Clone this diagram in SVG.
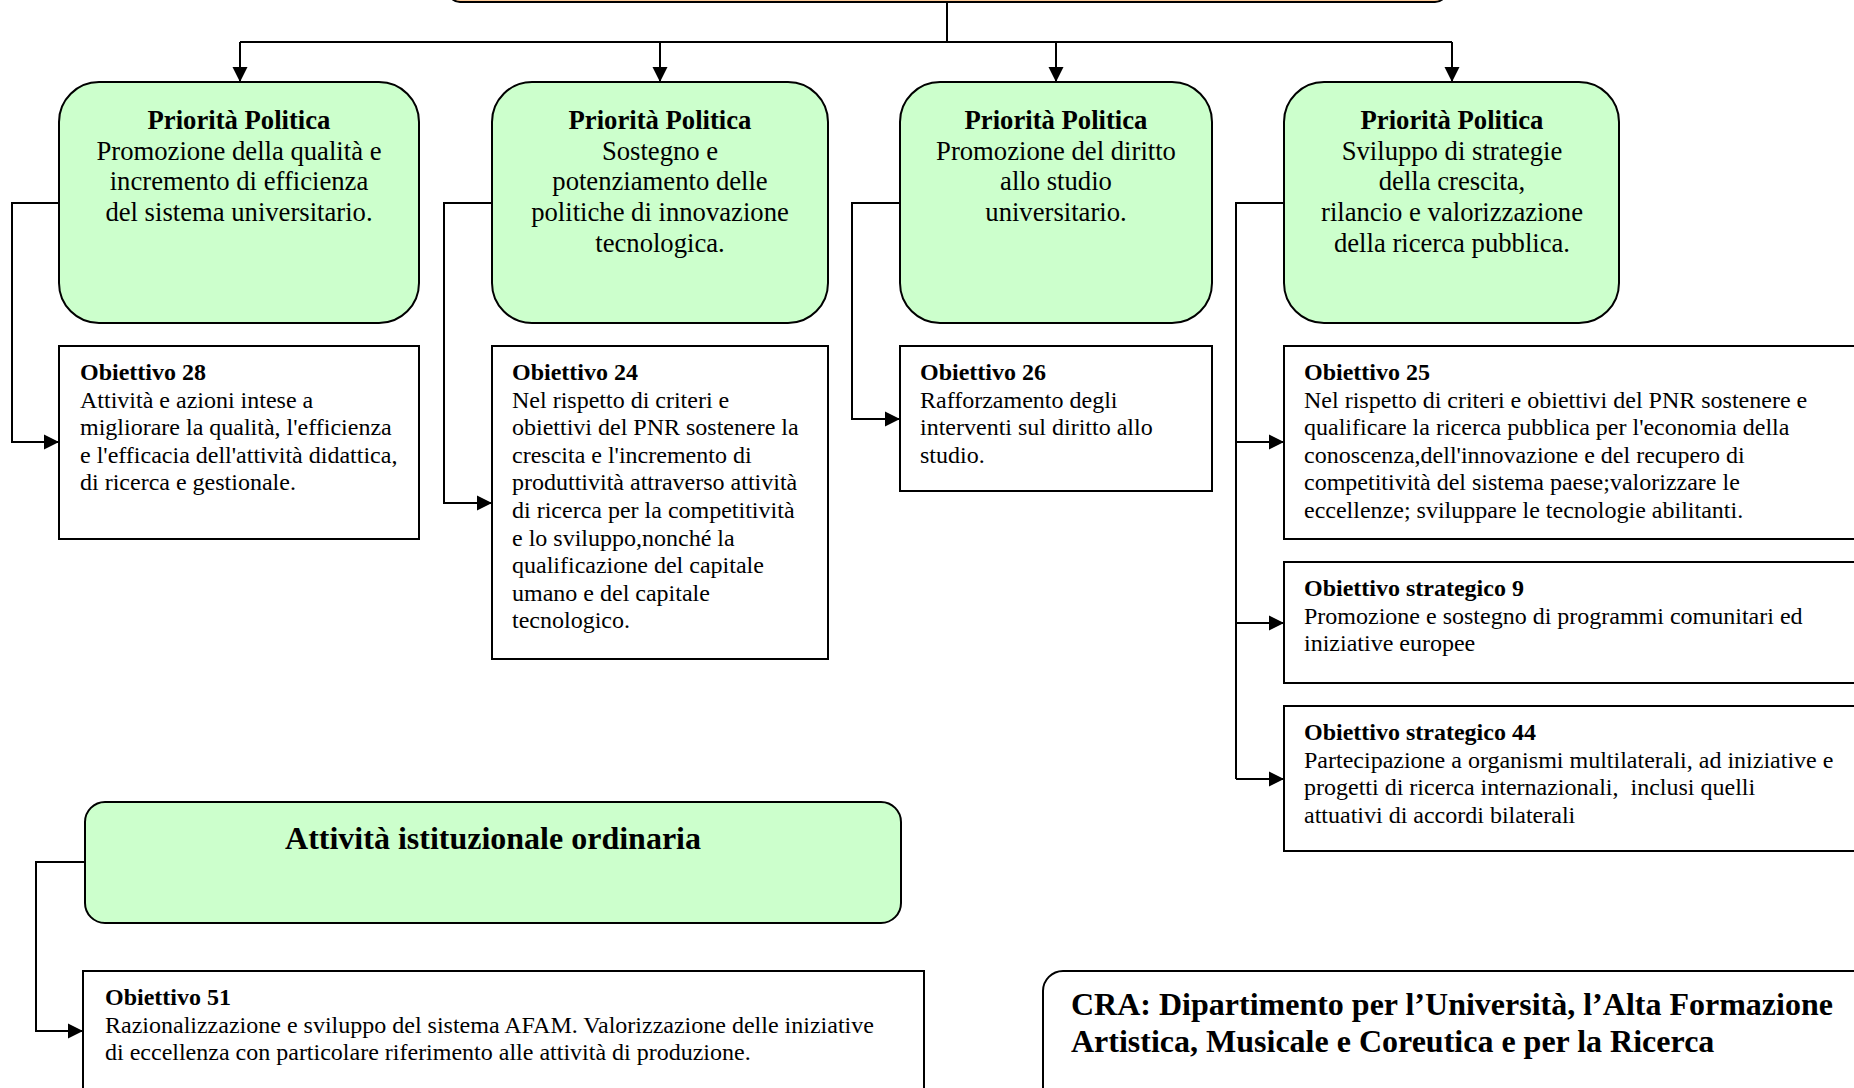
<svg xmlns="http://www.w3.org/2000/svg" width="1854" height="1088" viewBox="0 0 1854 1088">
  <style>
    .pp { fill: #CCFFCC; stroke: #000; stroke-width: 2; }
    .ob { fill: #FFFFFF; stroke: #000; stroke-width: 2; }
    .top { fill: #FFCC99; stroke: #000; stroke-width: 2; }
    .conn { fill: none; stroke: #000; stroke-width: 2; }
    .arr { fill: none; stroke: #000; stroke-width: 2; marker-end: url(#ah); }
    text { font-family: "Liberation Serif", "Times New Roman", serif; fill: #000; }
    .pt { font-size: 26.67px; text-anchor: middle; }
    .b { font-weight: bold; }
    .bt { font-size: 24px; }
    .big { font-size: 32px; font-weight: bold; }
  </style>
  <defs>
    <marker id="ah" markerUnits="userSpaceOnUse" markerWidth="16" markerHeight="16" refX="15" refY="8" orient="auto">
      <path d="M0,0.5 L15,8 L0,15.5 Z" fill="#000"/>
    </marker>
  </defs>
  <rect width="1854" height="1088" fill="#FFFFFF"/>

  <g id="top-box">
    <rect class="top" x="448" y="-60" width="999" height="62" rx="12"/>
  </g>

  <g id="connectors">
    <path class="conn" d="M947,2 V42"/>
    <path class="conn" d="M240,42 H1452"/>
    <path class="arr" d="M240,42 V82"/>
    <path class="arr" d="M660,42 V82"/>
    <path class="arr" d="M1056,42 V82"/>
    <path class="arr" d="M1452,42 V82"/>
    <path class="arr" d="M59,203 H12 V442 H59"/>
    <path class="arr" d="M492,203 H444 V503 H492"/>
    <path class="arr" d="M900,203 H852 V419 H900"/>
    <path class="conn" d="M1284,203 H1236 V779"/>
    <path class="arr" d="M1236,442 H1284"/>
    <path class="arr" d="M1236,623 H1284"/>
    <path class="arr" d="M1236,779 H1284"/>
    <path class="arr" d="M85,862 H36 V1031 H83"/>
  </g>

  <g id="pp1">
    <rect class="pp" x="59" y="82" width="360" height="241" rx="40"/>
    <text class="pt b" x="239" y="129">Priorità Politica</text>
    <text class="pt" x="239" y="159.7">Promozione della qualità e</text>
    <text class="pt" x="239" y="190.4">incremento di efficienza</text>
    <text class="pt" x="239" y="221">del sistema universitario.</text>
  </g>

  <g id="pp2">
    <rect class="pp" x="492" y="82" width="336" height="241" rx="40"/>
    <text class="pt b" x="660" y="129">Priorità Politica</text>
    <text class="pt" x="660" y="159.7">Sostegno e</text>
    <text class="pt" x="660" y="190.4">potenziamento delle</text>
    <text class="pt" x="660" y="221">politiche di innovazione</text>
    <text class="pt" x="660" y="251.8">tecnologica.</text>
  </g>

  <g id="pp3">
    <rect class="pp" x="900" y="82" width="312" height="241" rx="40"/>
    <text class="pt b" x="1056" y="129">Priorità Politica</text>
    <text class="pt" x="1056" y="159.7">Promozione del diritto</text>
    <text class="pt" x="1056" y="190.4">allo studio</text>
    <text class="pt" x="1056" y="221">universitario.</text>
  </g>

  <g id="pp4">
    <rect class="pp" x="1284" y="82" width="335" height="241" rx="40"/>
    <text class="pt b" x="1452" y="129">Priorità Politica</text>
    <text class="pt" x="1452" y="159.7">Sviluppo di strategie</text>
    <text class="pt" x="1452" y="190.4">della crescita,</text>
    <text class="pt" x="1452" y="221">rilancio e valorizzazione</text>
    <text class="pt" x="1452" y="251.8">della ricerca pubblica.</text>
  </g>

  <g id="ob28">
    <rect class="ob" x="59" y="346" width="360" height="193"/>
    <text class="bt b" x="80" y="380">Obiettivo 28</text>
    <text class="bt" x="80" y="407.6">Attività e azioni intese a</text>
    <text class="bt" x="80" y="435.2">migliorare la qualità, l'efficienza</text>
    <text class="bt" x="80" y="462.8">e l'efficacia dell'attività didattica,</text>
    <text class="bt" x="80" y="490.4">di ricerca e gestionale.</text>
  </g>

  <g id="ob24">
    <rect class="ob" x="492" y="346" width="336" height="313"/>
    <text class="bt b" x="512" y="380">Obiettivo 24</text>
    <text class="bt" x="512" y="407.6">Nel rispetto di criteri e</text>
    <text class="bt" x="512" y="435.2">obiettivi del PNR sostenere la</text>
    <text class="bt" x="512" y="462.8">crescita e l'incremento di</text>
    <text class="bt" x="512" y="490.4">produttività attraverso attività</text>
    <text class="bt" x="512" y="518">di ricerca per la competitività</text>
    <text class="bt" x="512" y="545.6">e lo sviluppo,nonché la</text>
    <text class="bt" x="512" y="573.2">qualificazione del capitale</text>
    <text class="bt" x="512" y="600.8">umano e del capitale</text>
    <text class="bt" x="512" y="628.4">tecnologico.</text>
  </g>

  <g id="ob26">
    <rect class="ob" x="900" y="346" width="312" height="145"/>
    <text class="bt b" x="920" y="380">Obiettivo 26</text>
    <text class="bt" x="920" y="407.6">Rafforzamento degli</text>
    <text class="bt" x="920" y="435.2">interventi sul diritto allo</text>
    <text class="bt" x="920" y="462.8">studio.</text>
  </g>

  <g id="ob25">
    <rect class="ob" x="1284" y="346" width="590" height="193"/>
    <text class="bt b" x="1304" y="380">Obiettivo 25</text>
    <text class="bt" x="1304" y="407.6">Nel rispetto di criteri e obiettivi del PNR sostenere e</text>
    <text class="bt" x="1304" y="435.2">qualificare la ricerca pubblica per l'economia della</text>
    <text class="bt" x="1304" y="462.8">conoscenza,dell'innovazione e del recupero di</text>
    <text class="bt" x="1304" y="490.4">competitività del sistema paese;valorizzare le</text>
    <text class="bt" x="1304" y="518">eccellenze; sviluppare le tecnologie abilitanti.</text>
  </g>

  <g id="obs9">
    <rect class="ob" x="1284" y="562" width="590" height="121"/>
    <text class="bt b" x="1304" y="596">Obiettivo strategico 9</text>
    <text class="bt" x="1304" y="623.6">Promozione e sostegno di programmi comunitari ed</text>
    <text class="bt" x="1304" y="651.2">iniziative europee</text>
  </g>

  <g id="obs44">
    <rect class="ob" x="1284" y="706" width="590" height="145"/>
    <text class="bt b" x="1304" y="740">Obiettivo strategico 44</text>
    <text class="bt" x="1304" y="767.6">Partecipazione a organismi multilaterali, ad iniziative e</text>
    <text class="bt" x="1304" y="795.2" xml:space="preserve">progetti di ricerca internazionali,  inclusi quelli</text>
    <text class="bt" x="1304" y="822.8">attuativi di accordi bilaterali</text>
  </g>

  <g id="attivita">
    <rect class="pp" x="85" y="802" width="816" height="121" rx="20"/>
    <text class="big" x="493" y="849" text-anchor="middle">Attività istituzionale ordinaria</text>
  </g>

  <g id="ob51">
    <rect class="ob" x="83" y="971" width="841" height="120"/>
    <text class="bt b" x="105" y="1005">Obiettivo 51</text>
    <text class="bt" x="105" y="1032.6">Razionalizzazione e sviluppo del sistema AFAM. Valorizzazione delle iniziative</text>
    <text class="bt" x="105" y="1060.2">di eccellenza con particolare riferimento alle attività di produzione.</text>
  </g>

  <g id="cra">
    <rect class="ob" x="1043" y="971" width="840" height="160" rx="20"/>
    <text class="big" x="1071" y="1015">CRA: Dipartimento per l’Università, l’Alta Formazione</text>
    <text class="big" x="1071" y="1052">Artistica, Musicale e Coreutica e per la Ricerca</text>
  </g>
</svg>
